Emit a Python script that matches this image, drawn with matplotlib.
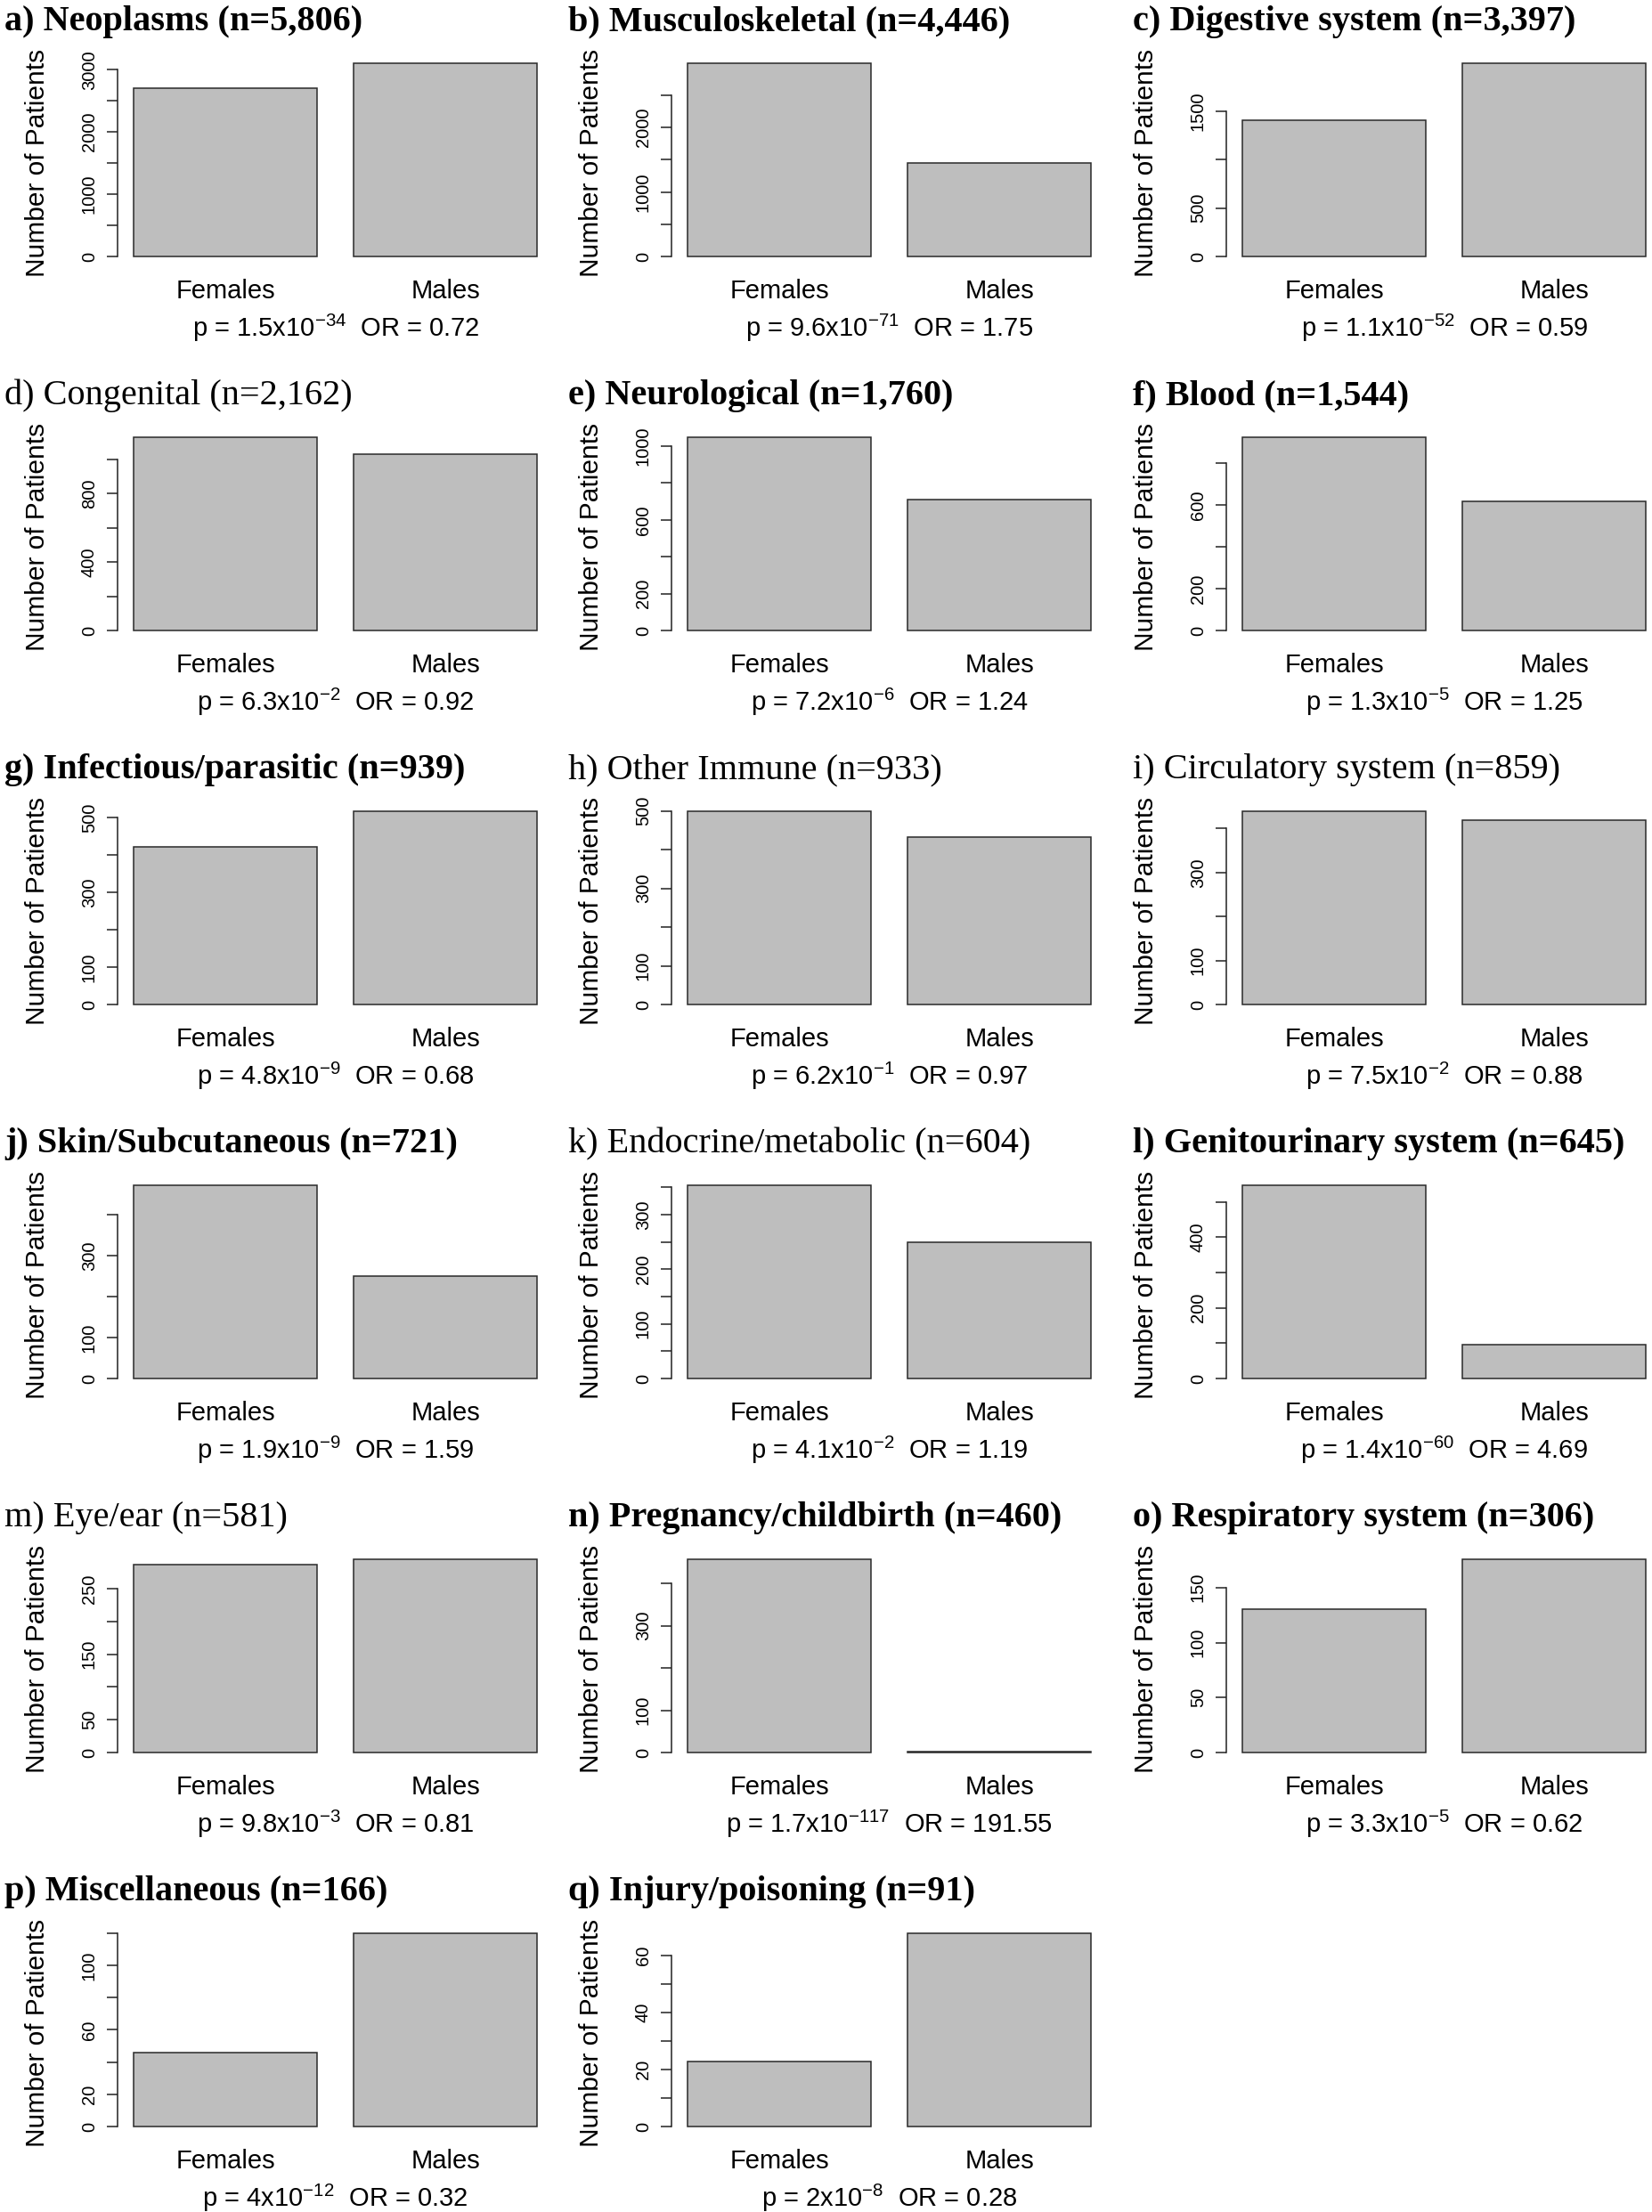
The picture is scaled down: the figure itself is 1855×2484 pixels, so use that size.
import matplotlib
matplotlib.use('Agg')
import matplotlib.pyplot as plt
from matplotlib.transforms import blended_transform_factory

# ---------------- data ----------------
letters = list('abcdefghijklmnopq')
titles = ['Neoplasms (n=5,806)', 'Musculoskeletal (n=4,446)', 'Digestive system (n=3,397)',
          'Congenital (n=2,162)', 'Neurological (n=1,760)', 'Blood (n=1,544)',
          'Infectious/parasitic (n=939)', 'Other Immune (n=933)', 'Circulatory system (n=859)',
          'Skin/Subcutaneous (n=721)', 'Endocrine/metabolic (n=604)', 'Genitourinary system (n=645)',
          'Eye/ear (n=581)', 'Pregnancy/childbirth (n=460)', 'Respiratory system (n=306)',
          'Miscellaneous (n=166)', 'Injury/poisoning (n=91)']
bold_title = [True, True, True, False, True, True, True, False, False,
              True, False, True, False, True, True, True, True]
categories = ['Females', 'Males']
females = [2698, 3000, 1403, 1131, 1050, 925, 421, 500, 440, 472, 354, 548, 286, 458, 130, 46, 23]
males = [3108, 1446, 1994, 1031, 710, 619, 518, 433, 419, 249, 250, 97, 295, 2, 176, 120, 68]
p_mant = ['1.5', '9.6', '1.1', '6.3', '7.2', '1.3', '4.8', '6.2', '7.5', '1.9', '4.1', '1.4',
          '9.8', '1.7', '3.3', '4', '2']
p_exp = [-34, -71, -52, -2, -6, -5, -9, -1, -2, -9, -2, -60, -3, -117, -5, -12, -8]
odds_ratio = ['0.72', '1.75', '0.59', '0.92', '1.24', '1.25', '0.68', '0.97', '0.88', '1.59',
              '1.19', '4.69', '0.81', '191.55', '0.62', '0.32', '0.28']
tick_step = [500, 500, 500, 200, 200, 200, 100, 100, 100, 100, 50, 100, 50, 100, 50, 20, 10]
tick_max = [3000, 2500, 1500, 1000, 1000, 800, 500, 500, 400, 400, 350, 500, 250, 400, 150, 120, 60]
tick_labels = [[0, 1000, 2000, 3000], [0, 1000, 2000], [0, 500, 1500], [0, 400, 800],
               [0, 200, 600, 1000], [0, 200, 600], [0, 100, 300, 500], [0, 100, 300, 500],
               [0, 100, 300], [0, 100, 300], [0, 100, 200, 300], [0, 200, 400],
               [0, 50, 150, 250], [0, 100, 300], [0, 50, 100, 150], [0, 20, 60, 100],
               [0, 20, 40, 60]]

# ---------------- style ----------------
plt.rcParams['font.family'] = ['Liberation Sans', 'DejaVu Sans']
plt.rcParams['mathtext.fontset'] = 'custom'
plt.rcParams['mathtext.rm'] = 'Liberation Sans'
plt.rcParams['mathtext.it'] = 'Liberation Sans'
plt.rcParams['mathtext.default'] = 'regular'

W, H = 1856, 2484
fig = plt.figure(figsize=(W / 100, H / 100), dpi=100)

spine_x = [132, 754, 1377]
title_x = [5, 638, 1272]
unit_px = 206.0                 # pixels per bar width
plot_w = unit_px * 2.2 * 1.08
bar_px = 217.3                  # pixel height of tallest bar
ROW = 420
bar_fill = '#BEBEBE'
edge = '#2a2a2a'

for i in range(len(titles)):
    r, c = divmod(i, 3)
    zero_y = 288 + ROW * r
    M = max(females[i], males[i])
    height_px = bar_px * 1.08
    bottom_px = zero_y + bar_px * 0.04
    left = spine_x[c]
    ax = fig.add_axes([left / W, 1 - bottom_px / H, plot_w / W, height_px / H])
    ax.set_xlim(0.2 - 0.088, 2.4 + 0.088)
    ax.set_ylim(-0.04 * M, 1.04 * M)
    ax.bar([0.7, 1.9], [females[i], males[i]], width=1.0, color=bar_fill,
           edgecolor=edge, linewidth=1.1)
    for s in ['top', 'right', 'bottom']:
        ax.spines[s].set_visible(False)
    ax.spines['left'].set_bounds(0, tick_max[i])
    ax.spines['left'].set_linewidth(1.1)
    ax.spines['left'].set_color('#222222')
    ax.set_xticks([])
    ticks = list(range(0, tick_max[i] + 1, tick_step[i]))
    ax.set_yticks(ticks)
    ax.set_yticklabels([str(t) if t in tick_labels[i] else '' for t in ticks],
                       rotation=90, va='center', fontsize=14.5)
    ax.tick_params(axis='y', direction='out', length=9, width=1.1, pad=7, color='#222222')
    ax.patch.set_alpha(0)

    # category labels
    tr = blended_transform_factory(ax.transData, fig.transFigure)
    for xc, lab in zip([0.7, 1.9], categories):
        ax.text(xc, 1 - (zero_y + 47) / H, lab, transform=tr, ha='center',
                va='baseline', fontsize=21)
    # p / OR text
    tr2 = blended_transform_factory(ax.transAxes, fig.transFigure)
    ptxt = f"p = {p_mant[i]}x10$^{{{p_exp[i]}}}$  OR = {odds_ratio[i]}"
    ax.text(0.5, 1 - (zero_y + 90) / H, ptxt, transform=tr2, ha='center',
            va='baseline', fontsize=21)

    # y label
    fig.text((left - 90) / W, 1 - (zero_y - 105) / H, 'Number of Patients',
             rotation=90, ha='center', va='center', fontsize=21.5)

    # title
    fig.text(title_x[c] / W, 1 - (34 + ROW * r) / H, f"{letters[i]}) {titles[i]}",
             ha='left', va='baseline', fontsize=29, family='Liberation Serif',
             weight='bold' if bold_title[i] else 'normal')

fig.savefig('out.png', dpi=100)
